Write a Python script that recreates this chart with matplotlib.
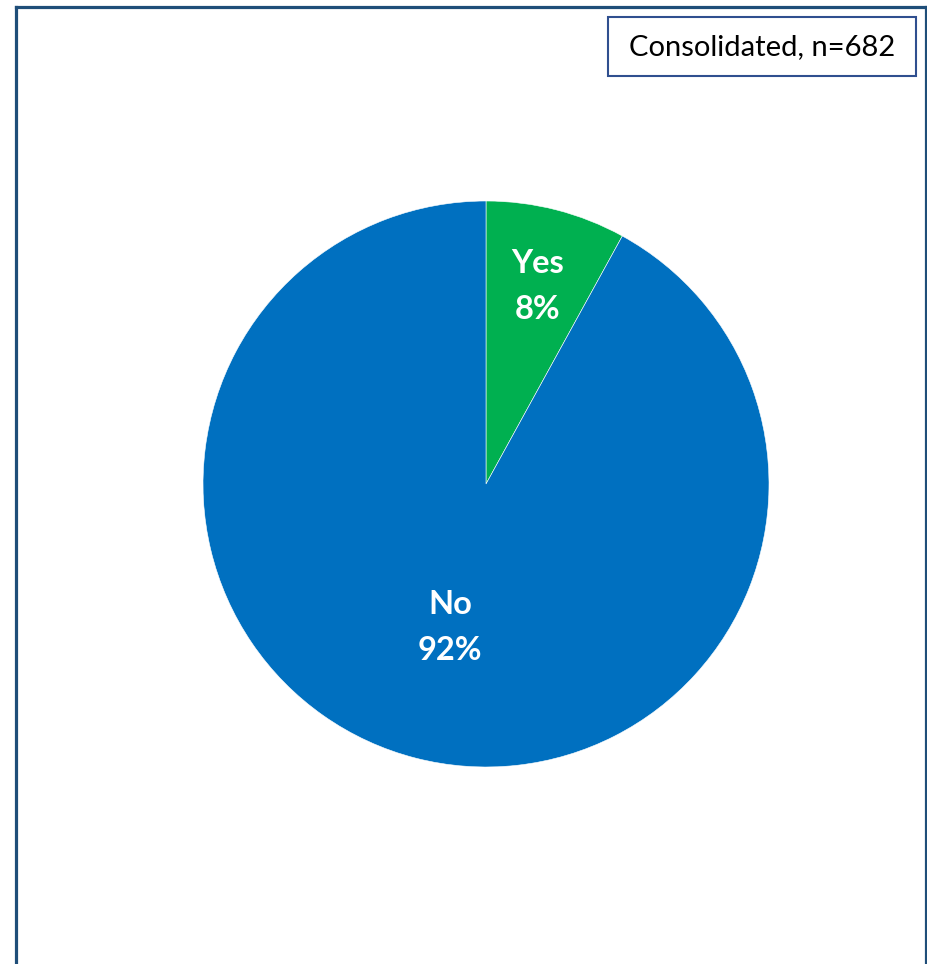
import matplotlib.pyplot as plt
import numpy as np
from matplotlib.patches import Rectangle
from matplotlib.lines import Line2D
from matplotlib.transforms import offset_copy

labels = ["Yes", "No"]
shares = [8, 92]
colors = ["#00B050", "#0070C0"]
label_dist = [0.735, 0.51]
panel_title = "Consolidated, n=682"

W, H = 928, 964
fig = plt.figure(figsize=(W / 100, H / 100), dpi=100)

# pie centre and radius in pixels
cx, cy, r = 486, 484, 283
ax = fig.add_axes([(cx - r) / W, (H - cy - r) / H, 2 * r / W, 2 * r / H])
wedges, _ = ax.pie(shares, colors=colors, startangle=90, counterclock=False,
                   wedgeprops=dict(edgecolor="white", linewidth=0.4))
lbl_tr = offset_copy(ax.transData, fig=fig, x=0, y=-4, units="dots")
for w, lab, val, d in zip(wedges, labels, shares, label_dist):
    ang = np.deg2rad((w.theta1 + w.theta2) / 2)
    ax.text(d * np.cos(ang), d * np.sin(ang), f"{lab}\n{val}%",
            ha="center", va="center", color="white", fontsize=23.5,
            fontweight="bold", family="Lato", linespacing=1.7,
            transform=lbl_tr)
ax.set_xlim(-1, 1)
ax.set_ylim(-1, 1)
ax.set_aspect("equal")
ax.axis("off")

# outer frame (left, top, right)
navy = "#1F4E79"
fx = lambda x: x / W
fy = lambda y: 1 - y / H
for xs, ys in [([16, 16], [7, 970]), ([16, 926], [7, 7]), ([926, 926], [7, 970])]:
    fig.add_artist(Line2D([fx(x) for x in xs], [fy(y) for y in ys],
                          color=navy, linewidth=2.3, transform=fig.transFigure))

# title box
fig.add_artist(Rectangle((fx(608), fy(76)), fx(916) - fx(608), fy(17) - fy(76),
                         transform=fig.transFigure, facecolor="white",
                         edgecolor="#2F4F8F", linewidth=1.5))
fig.text(fx(762), fy(47), panel_title, ha="center", va="center",
         fontsize=21, family="Lato", color="black")

fig.savefig("out.png", dpi=100)
